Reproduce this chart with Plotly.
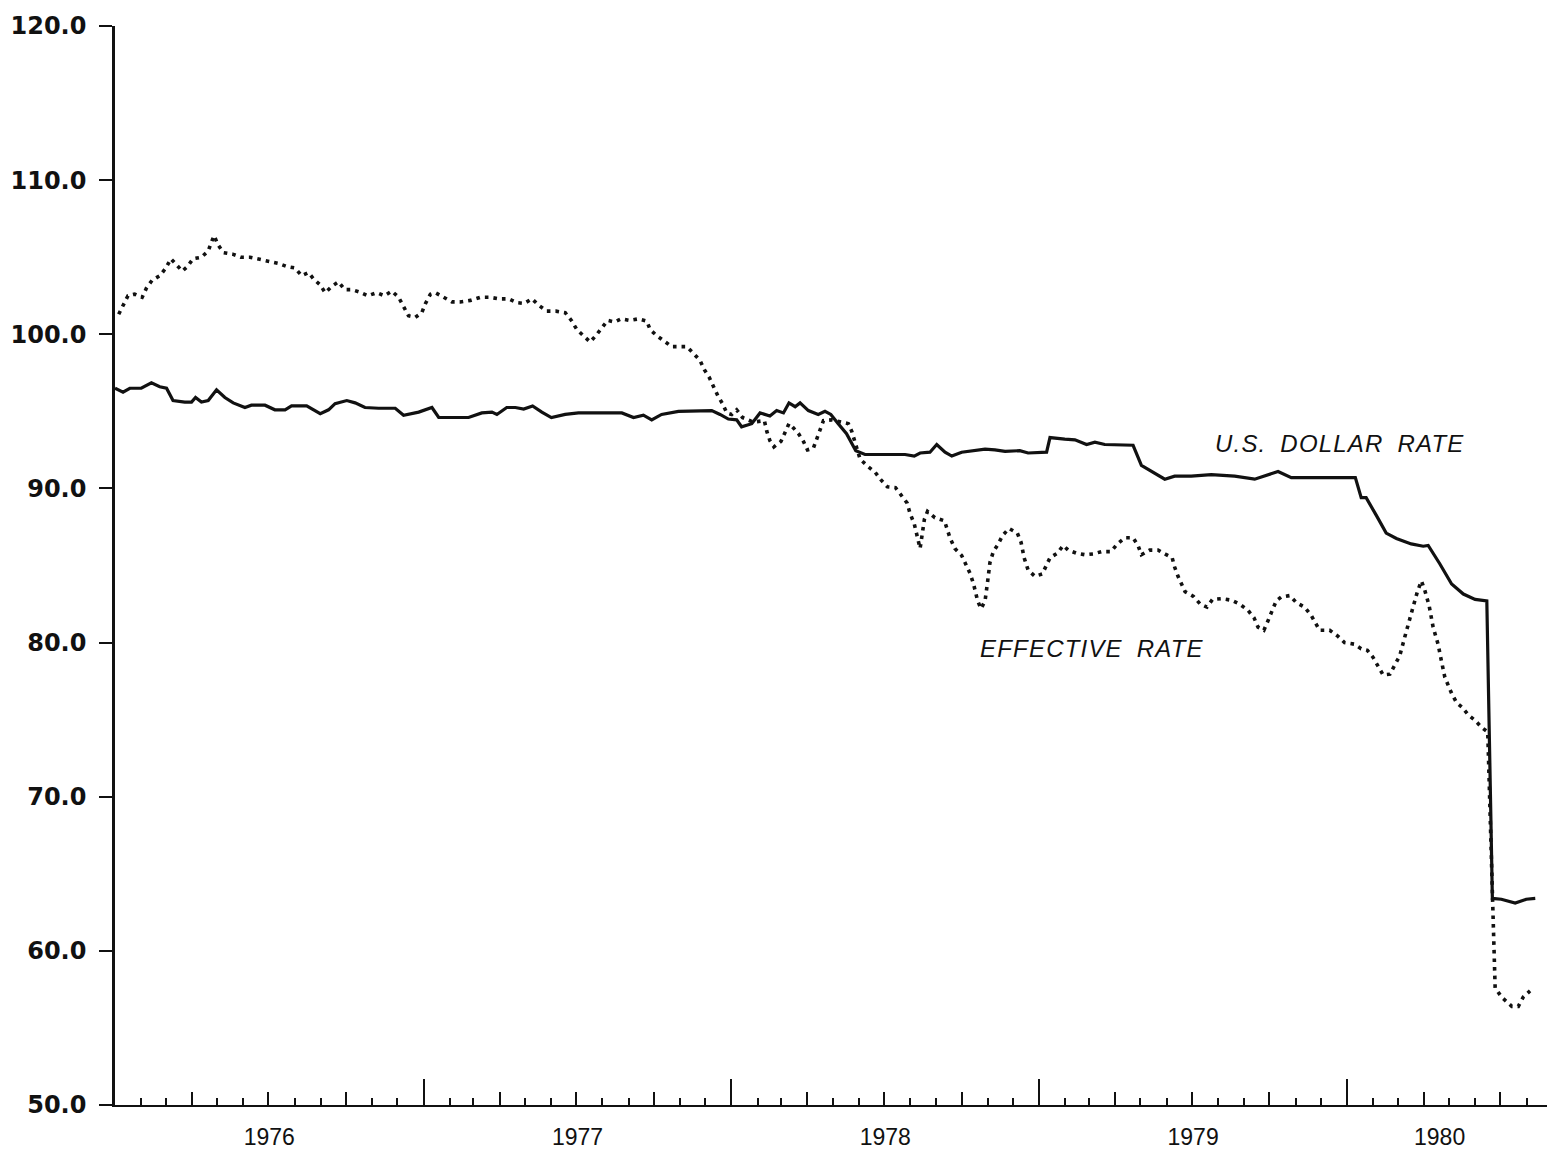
import plotly.graph_objects as go
from datetime import datetime

# ---- data (time as decimal year, values as index) ----
eff_t = [1976.012, 1976.026, 1976.042, 1976.064, 1976.088, 1976.102, 1976.120, 1976.145, 1976.165, 1976.181,
         1976.199, 1976.218, 1976.235, 1976.253, 1976.280, 1976.302, 1976.313, 1976.321, 1976.334, 1976.351,
         1976.381, 1976.408, 1976.437, 1976.470, 1976.497, 1976.529, 1976.556, 1976.583, 1976.605, 1976.627,
         1976.643, 1976.665, 1976.681, 1976.702, 1976.724, 1976.744, 1976.767, 1976.791, 1976.819, 1976.848,
         1976.873, 1976.897, 1976.919, 1976.935, 1976.951, 1976.973, 1976.994, 1977.006, 1977.022, 1977.038,
         1977.065, 1977.092, 1977.119, 1977.152, 1977.184, 1977.216, 1977.245, 1977.276, 1977.303, 1977.327,
         1977.352, 1977.373, 1977.400, 1977.430, 1977.460, 1977.480, 1977.498, 1977.519, 1977.541, 1977.559,
         1977.579, 1977.598, 1977.620, 1977.642, 1977.669, 1977.698, 1977.725, 1977.736, 1977.758, 1977.781,
         1977.806, 1977.830, 1977.855, 1977.877, 1977.898, 1977.912, 1977.928, 1977.942, 1977.956, 1977.971,
         1977.985, 1978.001, 1978.017, 1978.036, 1978.071, 1978.107, 1978.115, 1978.125, 1978.138, 1978.161,
         1978.174, 1978.187, 1978.198, 1978.218, 1978.234, 1978.247, 1978.266, 1978.277, 1978.288, 1978.299,
         1978.326, 1978.353, 1978.380, 1978.391, 1978.418, 1978.445, 1978.467, 1978.486, 1978.507, 1978.533,
         1978.553, 1978.571, 1978.580, 1978.594, 1978.613, 1978.618, 1978.627, 1978.637, 1978.661, 1978.692,
         1978.710, 1978.726, 1978.748, 1978.761, 1978.775, 1978.786, 1978.800, 1978.811, 1978.824, 1978.832,
         1978.840, 1978.851, 1978.867, 1978.881, 1978.902, 1978.929, 1978.941, 1978.951, 1978.964, 1978.986,
         1979.010, 1979.035, 1979.059, 1979.078, 1979.094, 1979.121, 1979.148, 1979.175, 1979.202, 1979.233,
         1979.254, 1979.278, 1979.305, 1979.321, 1979.332, 1979.359, 1979.386, 1979.413, 1979.432, 1979.440,
         1979.451, 1979.474, 1979.501, 1979.523, 1979.545, 1979.563, 1979.592, 1979.624, 1979.651, 1979.678,
         1979.698, 1979.711, 1979.730, 1979.743, 1979.756, 1979.770, 1979.786, 1979.814, 1979.835, 1979.862,
         1979.884, 1979.911, 1979.944, 1979.971, 1979.992, 1980.023, 1980.046, 1980.066, 1980.084, 1980.101,
         1980.117, 1980.139, 1980.155, 1980.171, 1980.185, 1980.200, 1980.214, 1980.228, 1980.241, 1980.252,
         1980.266, 1980.279, 1980.295, 1980.306, 1980.317, 1980.339, 1980.355, 1980.373, 1980.393, 1980.415,
         1980.436, 1980.456, 1980.480, 1980.501, 1980.534, 1980.555, 1980.571, 1980.593]
eff_v = [101.3, 101.9, 102.5, 102.6, 102.4, 103.0, 103.5, 103.8, 104.3, 104.9,
         104.5, 104.1, 104.4, 104.9, 105.0, 105.4, 106.0, 106.4, 105.8, 105.3,
         105.2, 105.0, 105.0, 104.85, 104.7, 104.6, 104.4, 104.3, 103.8, 104.0,
         103.6, 103.2, 102.7, 103.1, 103.4, 102.9, 102.9, 102.75, 102.5, 102.7,
         102.5, 102.8, 102.4, 101.8, 101.2, 101.1, 101.4, 102.0, 102.6, 102.7,
         102.4, 102.1, 102.1, 102.2, 102.4, 102.4, 102.3, 102.3, 102.05, 102.0,
         102.3, 101.9, 101.5, 101.5, 101.4, 100.9, 100.3, 99.9, 99.5, 99.9,
         100.4, 100.9, 100.8, 101.0, 100.9, 101.0, 100.85, 100.3, 99.9, 99.55,
         99.2, 99.2, 99.2, 98.75, 98.3, 97.7, 97.2, 96.6, 96.0, 95.5,
         94.9, 94.8, 95.1, 94.6, 94.3, 94.4, 93.7, 93.1, 92.7, 93.05,
         93.6, 94.2, 94.0, 93.55, 93.05, 92.5, 92.6, 93.2, 93.8, 94.4,
         94.45, 94.35, 94.2, 93.7, 91.9, 91.4, 91.05, 90.55, 90.1, 90.05,
         89.55, 89.05, 88.4, 87.7, 86.1, 86.8, 88.0, 88.5, 88.1, 87.9,
         86.8, 86.1, 85.65, 85.1, 84.5, 83.85, 82.7, 82.2, 82.7, 83.9,
         85.2, 85.9, 86.4, 86.95, 87.4, 87.1, 86.5, 85.5, 84.7, 84.3,
         84.45, 85.5, 85.8, 86.3, 86.0, 85.8, 85.7, 85.75, 85.9, 85.9,
         86.4, 86.8, 86.8, 86.3, 85.7, 86.0, 86.0, 85.7, 85.5, 84.9,
         84.3, 83.3, 83.0, 82.5, 82.3, 82.8, 82.85, 82.75, 82.5, 82.1,
         81.6, 81.0, 80.8, 81.4, 82.1, 82.7, 82.95, 83.05, 82.6, 82.3,
         81.75, 80.8, 80.8, 80.4, 80.0, 79.9, 79.6, 79.5, 79.05, 78.5,
         77.9, 77.95, 78.6, 79.15, 80.2, 81.4, 82.3, 83.3, 84.0, 83.4,
         82.4, 81.0, 79.9, 78.8, 77.75, 76.7, 76.1, 75.8, 75.3, 74.95,
         74.5, 74.2, 57.6, 57.0, 56.4, 56.4, 57.0, 57.4]

usd_t = [1976.000, 1976.026, 1976.048, 1976.085, 1976.118, 1976.145, 1976.167, 1976.188, 1976.226, 1976.248,
         1976.261, 1976.280, 1976.302, 1976.329, 1976.356, 1976.383, 1976.421, 1976.442, 1976.486, 1976.518,
         1976.551, 1976.572, 1976.621, 1976.665, 1976.692, 1976.713, 1976.751, 1976.778, 1976.810, 1976.854,
         1976.908, 1976.935, 1976.984, 1977.027, 1977.049, 1977.092, 1977.146, 1977.189, 1977.222, 1977.238,
         1977.270, 1977.298, 1977.325, 1977.354, 1977.384, 1977.415, 1977.460, 1977.503, 1977.557, 1977.644,
         1977.682, 1977.714, 1977.741, 1977.773, 1977.828, 1977.882, 1977.936, 1977.963, 1977.990, 1978.017,
         1978.033, 1978.066, 1978.093, 1978.125, 1978.147, 1978.169, 1978.187, 1978.207, 1978.223, 1978.250,
         1978.282, 1978.304, 1978.323, 1978.347, 1978.374, 1978.404, 1978.434, 1978.488, 1978.564, 1978.594,
         1978.613, 1978.645, 1978.667, 1978.694, 1978.716, 1978.748, 1978.791, 1978.824, 1978.856, 1978.889,
         1978.937, 1978.964, 1979.024, 1979.035, 1979.083, 1979.116, 1979.154, 1979.181, 1979.213, 1979.267,
         1979.305, 1979.332, 1979.370, 1979.408, 1979.440, 1979.494, 1979.559, 1979.608, 1979.635, 1979.700,
         1979.737, 1979.776, 1979.819, 1979.873, 1979.938, 1979.992, 1980.027, 1980.046, 1980.062, 1980.095,
         1980.127, 1980.160, 1980.208, 1980.247, 1980.263, 1980.301, 1980.339, 1980.377, 1980.415, 1980.453,
         1980.471, 1980.500, 1980.545, 1980.581, 1980.610]
usd_v = [96.5, 96.25, 96.5, 96.5, 96.85, 96.6, 96.5, 95.7, 95.6, 95.6,
         95.9, 95.6, 95.7, 96.4, 95.9, 95.55, 95.25, 95.4, 95.4, 95.1,
         95.1, 95.35, 95.35, 94.85, 95.1, 95.5, 95.7, 95.55, 95.25, 95.2,
         95.2, 94.75, 94.95, 95.25, 94.6, 94.6, 94.6, 94.9, 94.95, 94.8,
         95.25, 95.25, 95.15, 95.35, 94.95, 94.6, 94.8, 94.9, 94.9, 94.9,
         94.6, 94.75, 94.45, 94.8, 95.0, 95.0, 95.05, 94.8, 94.5, 94.45,
         94.0, 94.2, 94.9, 94.7, 95.05, 94.9, 95.55, 95.3, 95.55, 95.05,
         94.8, 95.0, 94.8, 94.2, 93.55, 92.45, 92.2, 92.2, 92.2, 92.1,
         92.3, 92.35, 92.85, 92.35, 92.1, 92.35, 92.45, 92.55, 92.5, 92.4,
         92.45, 92.3, 92.35, 93.3, 93.2, 93.15, 92.85, 93.0, 92.85, 92.85,
         92.8, 91.5, 91.05, 90.6, 90.8, 90.8, 90.9, 90.85, 90.8, 90.6,
         90.85, 91.1, 90.7, 90.7, 90.75, 90.7, 90.7, 89.4, 89.4, 88.25,
         87.1, 86.75, 86.4, 86.25, 86.3, 85.1, 83.8, 83.15, 82.8, 82.7,
         63.4, 63.35, 63.1, 63.35, 63.4]

y_ticks = [50, 60, 70, 80, 90, 100, 110, 120]
year_labels = ["1976", "1977", "1978", "1979", "1980"]
year_label_t = [1976.5, 1977.5, 1978.5, 1979.5, 1980.30]
x_start, x_end = 1976.0, 1980.648
y_start, y_end = 50, 120

usd_label = "U.S. DOLLAR RATE"
usd_label_at = (1979.974, 92.92)
eff_label = "EFFECTIVE RATE"
eff_label_at = (1979.170, 79.61)


def to_date(t):
    y = int(t)
    a, b = datetime(y, 1, 1), datetime(y + 1, 1, 1)
    return a + (b - a) * (t - y)


INK = "#111111"
fig = go.Figure()
fig.add_trace(go.Scatter(x=[to_date(t) for t in usd_t], y=usd_v, mode="lines",
                         line=dict(color=INK, width=3.2), showlegend=False, hoverinfo="skip"))
fig.add_trace(go.Scatter(x=[to_date(t) for t in eff_t], y=eff_v, mode="lines",
                         line=dict(color=INK, width=3.6, dash="3.6px,5px"), showlegend=False, hoverinfo="skip"))
# empty helper traces so overlay axes are drawn
fig.add_trace(go.Scatter(x=[None], y=[None], xaxis="x2", showlegend=False, hoverinfo="skip"))
fig.add_trace(go.Scatter(x=[None], y=[None], xaxis="x3", showlegend=False, hoverinfo="skip"))

xr = [to_date(x_start), to_date(x_end)]
common = dict(type="date", range=xr, showgrid=False, zeroline=False)

fig.update_layout(
    width=1547, height=1150,
    margin=dict(l=115, r=0, t=26, b=45),
    paper_bgcolor="white", plot_bgcolor="white",
    xaxis=dict(**common, showline=True, linecolor=INK, linewidth=2,
               ticks="inside", tickmode="linear", tick0="1976-01-01", dtick="M12",
               ticklen=26, tickwidth=2, tickcolor=INK, showticklabels=False,
               minor=dict(ticks="inside", tickmode="linear", tick0="1976-01-01", dtick="M1",
                          ticklen=7, tickwidth=2, tickcolor=INK)),
    xaxis2=dict(**common, overlaying="x", anchor="y", side="bottom", showline=False,
                ticks="inside", tickmode="linear", tick0="1976-01-01", dtick="M3",
                ticklen=13, tickwidth=2, tickcolor=INK, showticklabels=False),
    xaxis3=dict(**common, overlaying="x", anchor="y", side="bottom", showline=False,
                ticks="", tickmode="array",
                tickvals=[to_date(t) for t in year_label_t], ticktext=year_labels,
                tickfont=dict(family="Liberation Sans", size=23, color=INK),
                ticklabelstandoff=16),
    yaxis=dict(range=[y_start, y_end], showgrid=False, zeroline=False,
               showline=True, linecolor=INK, linewidth=2.5,
               ticks="outside", tickvals=y_ticks, tickformat=".1f",
               ticklen=13, tickwidth=2, tickcolor=INK,
               tickfont=dict(family="DejaVu Sans", size=24, color=INK, weight="bold"),
               ticklabelstandoff=8),
)

span = '<span style="letter-spacing:1.2px;word-spacing:6px">{}</span>'
fig.add_annotation(x=to_date(usd_label_at[0]), y=usd_label_at[1], text=span.format(usd_label), showarrow=False,
                   font=dict(family="Liberation Sans", size=24, color=INK, style="italic"))
fig.add_annotation(x=to_date(eff_label_at[0]), y=eff_label_at[1], text=span.format(eff_label), showarrow=False,
                   font=dict(family="Liberation Sans", size=24, color=INK, style="italic"))

fig.write_html("out.html", config={"displayModeBar": False},
               post_script="document.body.style.margin='0';")
